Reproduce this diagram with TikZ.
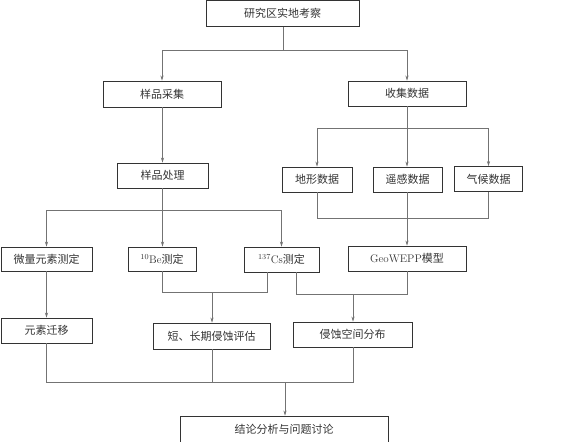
\documentclass[tikz,border=0pt]{standalone}
\usepackage{fontspec}
\newfontfamily\cjk{Noto Sans CJK SC}
\usetikzlibrary{arrows.meta}

\begin{document}
\begin{tikzpicture}[x=1pt, y=-1pt,
  box/.style={draw=black!80, line width=0.9pt, minimum height=25pt,
              inner sep=2pt, font=\cjk\fontsize{11}{13}\selectfont,
              text=black!80, align=center},
  arr/.style={draw=black!55, line width=0.6pt,
              -{Stealth[length=5pt, width=3.2pt]}},
  ln/.style={draw=black!55, line width=0.6pt},
]
\useasboundingbox (0,0) rectangle (587,442);
% --- Top ---
\node[box, minimum width=153pt, minimum height=26pt] (kaocha) at (282.5, 13.5) {研究区实地考察};
% --- Row 1 ---
\node[box, minimum width=118pt, minimum height=26pt] (caiji) at (162, 94) {样品采集};
\node[box, minimum width=118pt] (shouji) at (407, 93.5) {收集数据};
\coordinate (j1) at (283, 50);
\draw[ln] (kaocha.south -| j1) -- (j1);
\draw[arr] (j1) -| (caiji);
\draw[arr] (j1) -| (shouji);
% --- Row 2 ---
\node[box, minimum width=91pt] (chuli) at (162.5, 175.5) {样品处理};
\node[box, minimum width=70pt] (dixing) at (317, 179.5) {地形数据};
\node[box, minimum width=69pt] (yaogan) at (407.5, 179.5) {遥感数据};
\node[box, minimum width=68pt] (qihou) at (488.5, 179) {气候数据};
\draw[arr] (caiji.south -| chuli.north) -- (chuli);
\coordinate (j2) at (407, 128);
\draw[ln] (shouji) -- (j2);
\draw[arr] (j2) -| (dixing);
\draw[arr] (j2) -- (yaogan.north -| j2);
\draw[arr] (j2) -| (qihou);
% --- Row 3 ---
\node[box, minimum width=91pt, minimum height=24pt] (weiliang) at (46.5, 259) {微量元素测定};
\node[box, minimum width=68pt, minimum height=24pt] (be) at (162, 259) {\textsuperscript{\rmfamily 10}{\rmfamily Be}测定};
\node[box, minimum width=75pt] (cs) at (281.5, 259.5) {\textsuperscript{\rmfamily 137}{\rmfamily Cs}测定};
\node[box, minimum width=118pt] (geo) at (407, 258.5) {{\rmfamily GeoWEPP}模型};
\coordinate (j3) at (162.5, 210);
\draw[ln] (chuli) -- (j3);
\draw[arr] (j3) -| (weiliang);
\draw[arr] (j3) -- (be.north -| j3);
\draw[arr] (j3) -| (cs);
\coordinate (j4) at (407, 218);
\draw[ln] (dixing) |- (j4);
\draw[ln] (qihou) |- (j4);
\draw[arr] (yaogan.south -| j4) -- (geo.north -| j4);
% --- Row 4 ---
\node[box, minimum width=91pt] (qianyi) at (46.5, 330.5) {元素迁移};
\node[box, minimum width=117pt, minimum height=26pt] (duan) at (211.5, 336) {短、长期侵蚀评估};
\node[box, minimum width=119pt] (kongjian) at (352.5, 334.5) {侵蚀空间分布};
\draw[arr] (weiliang) -- (qianyi);
\coordinate (j5) at (212, 292);
\draw[ln] (be.south) |- (j5);
\draw[ln] ([xshift=-14.5pt]cs.south) |- (j5);
\draw[arr] (j5) -- (duan.north -| j5);
\coordinate (j6) at (353, 294);
\draw[ln] ([xshift=14.5pt]cs.south) |- (j6);
\draw[ln] (geo.south) |- (j6);
\draw[arr] (j6) -- (kongjian.north -| j6);
% --- Bottom ---
\node[box, minimum width=208pt, minimum height=26pt] (jielun) at (284, 429) {结论分析与问题讨论};
\coordinate (j7) at (285, 382);
\draw[ln] (qianyi) |- (j7);
\draw[ln] (duan.south -| j5) -- (j5 |- j7);
\draw[ln] (kongjian.south -| j6) |- (j7);
\draw[arr] (j7) -- (jielun.north -| j7);
\end{tikzpicture}
\end{document}
